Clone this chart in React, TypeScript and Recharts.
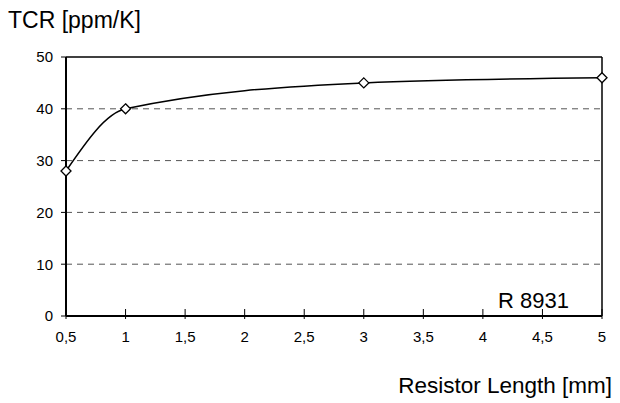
import { LineChart, Line, XAxis, YAxis, CartesianGrid, ReferenceLine } from "recharts"

// resistor length [mm]
const lengths = [0.5, 1, 3, 5]
// TCR [ppm/K]
const tcr = [28, 40, 45, 46]

const xTicks = [0.5, 1, 1.5, 2, 2.5, 3, 3.5, 4, 4.5, 5]
const yTicks = [0, 10, 20, 30, 40, 50]

const data = lengths.map((l, i) => ({ len: l, tcr: tcr[i] }))

const font = "'Liberation Sans', Arial, sans-serif"

const Diamond = (props: any) => {
  const { cx, cy } = props
  if (cx == null || cy == null) return null
  const r = 5
  return (
    <path
      d={`M${cx},${cy - r} L${cx + r},${cy} L${cx},${cy + r} L${cx - r},${cy} Z`}
      fill="#fff"
      stroke="#000"
      strokeWidth={1.3}
    />
  )
}

const XTick = (props: any) => {
  const { x, y, payload } = props
  const axisY = y - 8
  return (
    <g>
      <line x1={x} x2={x} y1={axisY - 5} y2={axisY + 5} stroke="#000" strokeWidth={1} />
      <text x={x} y={axisY + 28} textAnchor="middle" fontSize={15} fontFamily={font} fill="#000">
        {String(payload.value).replace(".", ",")}
      </text>
    </g>
  )
}

export default function App() {
  return (
    <div style={{ position: "absolute", left: 0, top: 0, width: 620, height: 403, background: "#fff" }}>
      <LineChart width={620} height={403} data={data} margin={{ top: 57, right: 18, left: 0, bottom: 0 }}>
        <CartesianGrid horizontal vertical={false} stroke="#555" strokeDasharray="6 5" horizontalValues={[10, 20, 30, 40]} />
        <XAxis
          dataKey="len"
          type="number"
          domain={[0.5, 5]}
          ticks={xTicks}
          interval={0}
          height={87}
          axisLine={{ stroke: "#000", strokeWidth: 2 }}
          tickLine={false}
          tick={<XTick />}
          tickMargin={0}
        />
        <YAxis
          type="number"
          domain={[0, 50]}
          ticks={yTicks}
          interval={0}
          width={66}
          axisLine={{ stroke: "#000", strokeWidth: 2 }}
          tickLine={{ stroke: "#000" }}
          tickSize={5}
          tickMargin={8}
          tick={{ fill: "#000", fontSize: 15, fontFamily: font }}
        />
        <ReferenceLine y={50} stroke="#000" strokeWidth={1.5} />
        <ReferenceLine x={5} stroke="#000" strokeWidth={1.5} />
        <Line
          type="monotone"
          dataKey="tcr"
          stroke="#000"
          strokeWidth={1.5}
          dot={<Diamond />}
          activeDot={false}
          isAnimationActive={false}
        />
        <text x={8} y={28} fontSize={23} fontFamily={font} fill="#000">
          TCR [ppm/K]
        </text>
        <text x={612} y={393} textAnchor="end" fontSize={22.5} fontFamily={font} fill="#000">
          Resistor Length [mm]
        </text>
        <text x={569} y={308} textAnchor="end" fontSize={22} fontFamily={font} fill="#000">
          R 8931
        </text>
      </LineChart>
    </div>
  )
}
